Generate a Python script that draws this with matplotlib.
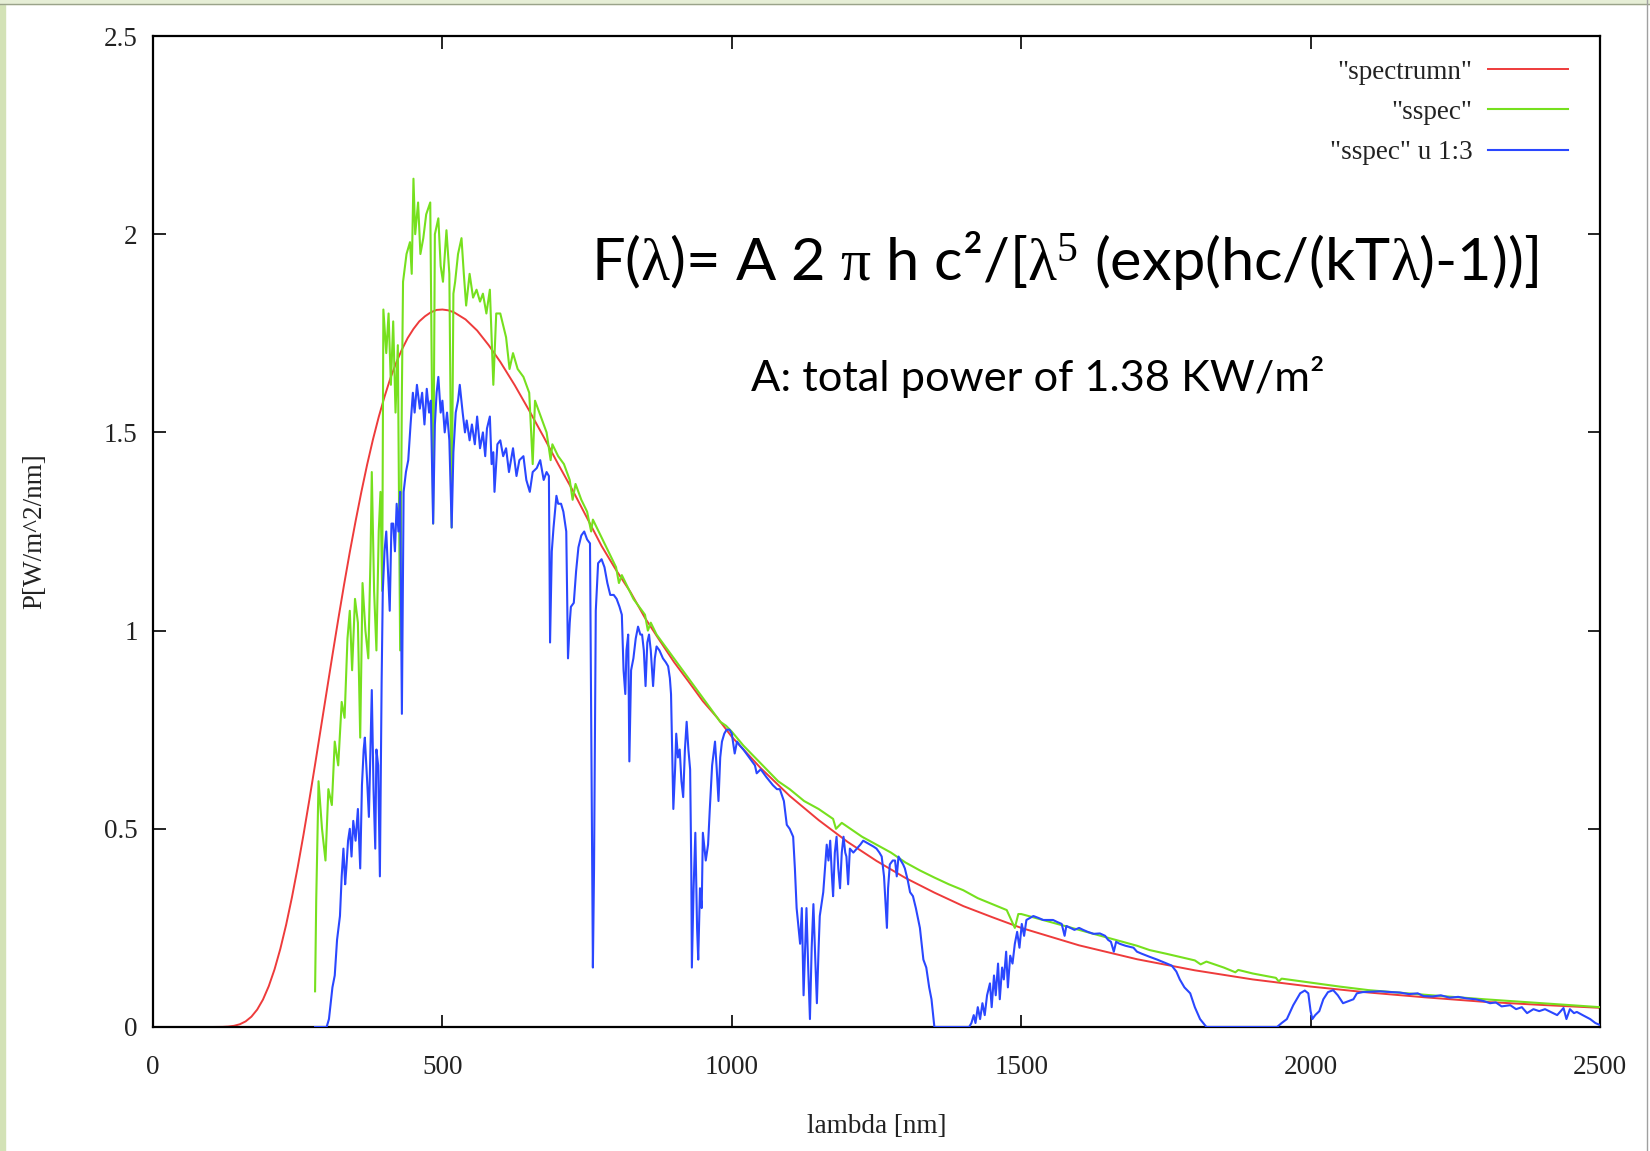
import matplotlib
matplotlib.use("Agg")
import matplotlib.pyplot as plt
from matplotlib.patches import Rectangle

# blackbody curve "spectrumn"
red_wl = [0, 100, 120, 130, 140, 150, 160, 170, 180, 190, 200, 210, 220, 230, 240, 250, 260, 270, 280, 290,
          300, 310, 320, 330, 340, 350, 360, 370, 380, 390, 400, 410, 420, 430, 440, 450, 460, 470, 480, 490,
          500, 510, 520, 540, 560, 580, 600, 625, 650, 675, 700, 725, 750, 775, 800, 825, 850, 875, 900, 925,
          950, 975, 1000, 1050, 1100, 1150, 1200, 1250, 1300, 1350, 1400, 1450, 1500, 1600, 1700, 1800, 1900, 2000,
          2100, 2200, 2300, 2400, 2500]
red_p = [0, 0, 0.0003, 0.0011, 0.003, 0.0069, 0.0141, 0.026, 0.0439, 0.0692, 0.103, 0.1455, 0.1972, 0.2578, 0.3268, 0.403, 0.485, 0.572, 0.662, 0.754,
         0.846, 0.938, 1.028, 1.115, 1.198, 1.276, 1.350, 1.419, 1.482, 1.539, 1.590, 1.636, 1.675, 1.709, 1.738, 1.761, 1.780, 1.793, 1.803, 1.809,
         1.810, 1.808, 1.803, 1.785, 1.757, 1.720, 1.678, 1.619, 1.555, 1.4885, 1.420, 1.354, 1.284, 1.2135, 1.153, 1.097, 1.032, 0.976, 0.921, 0.872,
         0.822, 0.780, 0.732, 0.653, 0.583, 0.522, 0.467, 0.419, 0.376, 0.339, 0.305, 0.277, 0.250, 0.206, 0.171, 0.143, 0.120, 0.102,
         0.087, 0.0746, 0.0635, 0.0556, 0.0484]

# "sspec" (top of atmosphere)
green_wl = [280, 282, 286, 292, 298, 303, 309, 314, 320, 326, 331, 336, 340, 344, 349, 354, 358, 362, 367, 372,
            376, 378, 382, 386, 390, 393, 396, 398, 403, 407, 411, 415, 419, 423, 427, 430, 432, 438, 444, 447,
            450, 453, 458, 462, 467, 472, 479, 484, 487, 493, 497, 501, 507, 512, 516, 519, 522, 527, 533, 537,
            541, 547, 553, 559, 565, 570, 576, 582, 588, 593, 600, 610, 616, 622, 630, 640, 650, 656, 660, 670,
            680, 687, 690, 700, 710, 720, 725, 730, 740, 750, 757, 760, 770, 780, 790, 800, 805, 810, 820, 830,
            840, 850, 855, 860, 870, 880, 890, 900, 910, 920, 930, 940, 950, 960, 970, 980, 990, 1000, 1020, 1040,
            1060, 1080, 1100, 1125, 1150, 1175, 1180, 1190, 1200, 1225, 1250, 1275, 1300, 1325, 1350, 1375, 1400, 1425,
            1450, 1475, 1489, 1495, 1500, 1525, 1550, 1600, 1650, 1700, 1722, 1750, 1800, 1810, 1820, 1850, 1870, 1875,
            1900, 1940, 1945, 1950, 2000, 2050, 2100, 2200, 2300, 2400, 2500]
green_p = [0.09, 0.32, 0.62, 0.50, 0.42, 0.60, 0.56, 0.72, 0.66, 0.82, 0.78, 0.98, 1.05, 0.90, 1.08, 1.02, 0.73, 1.12, 1.00, 0.93,
           1.20, 1.40, 1.10, 0.95, 1.25, 1.35, 1.10, 1.81, 1.70, 1.80, 1.62, 1.78, 1.55, 1.72, 0.95, 1.60, 1.88, 1.95, 1.98, 1.90,
           2.14, 2.00, 2.08, 1.95, 1.99, 2.05, 2.08, 1.27, 2.00, 2.04, 1.92, 1.88, 2.01, 1.90, 1.26, 1.85, 1.88, 1.95, 1.99, 1.90,
           1.82, 1.90, 1.84, 1.86, 1.83, 1.85, 1.80, 1.86, 1.62, 1.80, 1.80, 1.74, 1.66, 1.70, 1.66, 1.64, 1.60, 1.42, 1.58, 1.54,
           1.50, 1.43, 1.47, 1.44, 1.42, 1.38, 1.33, 1.37, 1.33, 1.30, 1.25, 1.28, 1.25, 1.22, 1.19, 1.16, 1.12, 1.14, 1.11, 1.08,
           1.06, 1.04, 1.00, 1.02, 0.99, 0.97, 0.95, 0.93, 0.91, 0.89, 0.87, 0.85, 0.83, 0.81, 0.79, 0.77, 0.76, 0.745, 0.71, 0.68,
           0.65, 0.62, 0.60, 0.57, 0.55, 0.525, 0.50, 0.515, 0.505, 0.48, 0.46, 0.44, 0.415, 0.395, 0.377, 0.36, 0.345, 0.325,
           0.31, 0.295, 0.25, 0.285, 0.285, 0.275, 0.265, 0.245, 0.225, 0.205, 0.194, 0.185, 0.168, 0.158, 0.165, 0.15, 0.138, 0.144,
           0.135, 0.124, 0.115, 0.122, 0.112, 0.102, 0.093, 0.081, 0.070, 0.060, 0.050]

# "sspec" u 1:3 (ground level)
blue_wl = [280, 300, 304, 310, 314, 318, 323, 326, 329, 332, 334, 337, 340, 343, 346, 350, 354, 358, 361, 364,
           366, 370, 373, 376, 378, 381, 384, 386, 389, 392, 395, 397, 400, 403, 406, 409, 412, 415, 418, 421,
           424, 427, 430, 433, 437, 441, 445, 449, 452, 456, 461, 465, 469, 473, 477, 480, 484, 487, 490, 493,
           497, 500, 504, 508, 512, 516, 519, 523, 527, 530, 535, 539, 542, 547, 551, 556, 560, 565, 570, 574,
           577, 582, 585, 588, 590, 595, 600, 605, 610, 615, 622, 628, 633, 640, 645, 651, 656, 663, 669, 675,
           680, 684, 686, 689, 692, 697, 700, 705, 709, 714, 717, 720, 722, 727, 731, 735, 740, 745, 750, 755,
           758, 760, 762, 765, 769, 775, 780, 785, 790, 796, 801, 806, 810, 813, 816, 818, 821, 823, 826, 830,
           834, 838, 842, 845, 848, 851, 854, 857, 860, 864, 867, 870, 875, 881, 886, 890, 893, 895, 897, 899,
           902, 904, 907, 910, 913, 916, 919, 922, 925, 928, 930, 931, 934, 937, 940, 942, 945, 948, 950, 955,
           959, 962, 966, 971, 974, 977, 980, 983, 987, 991, 996, 1000, 1005, 1009, 1014, 1020, 1030, 1040, 1043, 1050,
           1060, 1071, 1078, 1083, 1090, 1095, 1100, 1106, 1109, 1112, 1118, 1121, 1124, 1129, 1132, 1135, 1138, 1141, 1144, 1147,
           1150, 1152, 1158, 1161, 1164, 1167, 1170, 1173, 1175, 1178, 1181, 1184, 1187, 1190, 1193, 1196, 1198, 1201, 1204, 1210,
           1216, 1222, 1227, 1233, 1239, 1245, 1250, 1255, 1259, 1263, 1266, 1268, 1270, 1273, 1278, 1282, 1285, 1288, 1292, 1296,
           1299, 1304, 1308, 1313, 1318, 1325, 1331, 1336, 1341, 1345, 1350, 1410, 1414, 1418, 1421, 1425, 1429, 1433, 1437, 1441,
           1446, 1449, 1453, 1456, 1460, 1463, 1467, 1470, 1474, 1477, 1481, 1485, 1489, 1493, 1497, 1501, 1505, 1509, 1515, 1521,
           1530, 1538, 1547, 1555, 1562, 1570, 1575, 1578, 1585, 1592, 1600, 1607, 1615, 1625, 1636, 1645, 1650, 1655, 1660, 1664,
           1670, 1680, 1694, 1700, 1708, 1722, 1735, 1752, 1760, 1768, 1774, 1782, 1792, 1800, 1809, 1820, 1942, 1950, 1959, 1970,
           1982, 1990, 1996, 2000, 2003, 2008, 2015, 2022, 2030, 2039, 2047, 2056, 2065, 2074, 2080, 2090, 2103, 2120, 2140, 2154,
           2170, 2185, 2195, 2211, 2225, 2240, 2255, 2270, 2285, 2300, 2310, 2320, 2330, 2345, 2355, 2365, 2374, 2385, 2395, 2405,
           2415, 2426, 2437, 2442, 2448, 2455, 2460, 2470, 2483, 2492, 2500]
blue_p = [0.0, 0.0, 0.02, 0.10, 0.13, 0.22, 0.28, 0.38, 0.45, 0.36, 0.40, 0.47, 0.50, 0.43, 0.52, 0.47, 0.55, 0.40, 0.61, 0.70,
          0.73, 0.62, 0.53, 0.72, 0.85, 0.60, 0.45, 0.70, 0.66, 0.38, 0.87, 1.10, 1.20, 1.25, 1.15, 1.05, 1.27, 1.27, 1.20, 1.32,
          1.25, 1.35, 0.79, 1.35, 1.40, 1.43, 1.52, 1.60, 1.55, 1.62, 1.56, 1.60, 1.52, 1.61, 1.55, 1.58, 1.27, 1.52, 1.60, 1.64,
          1.55, 1.58, 1.50, 1.55, 1.48, 1.26, 1.45, 1.55, 1.58, 1.62, 1.55, 1.50, 1.53, 1.48, 1.52, 1.47, 1.54, 1.46, 1.50, 1.44,
          1.51, 1.54, 1.42, 1.45, 1.35, 1.47, 1.48, 1.44, 1.46, 1.40, 1.46, 1.39, 1.43, 1.44, 1.38, 1.35, 1.40, 1.41, 1.43, 1.38,
          1.40, 1.39, 0.97, 1.20, 1.26, 1.34, 1.32, 1.32, 1.30, 1.25, 0.93, 1.02, 1.06, 1.07, 1.15, 1.21, 1.24, 1.25, 1.23, 1.22,
          0.60, 0.15, 0.40, 1.05, 1.17, 1.18, 1.16, 1.12, 1.09, 1.09, 1.08, 1.06, 1.04, 0.90, 0.84, 0.95, 0.99, 0.67, 0.90, 0.93,
          0.98, 1.01, 0.99, 0.99, 0.95, 0.86, 0.97, 0.99, 0.95, 0.86, 0.93, 0.96, 0.95, 0.93, 0.92, 0.91, 0.88, 0.84, 0.70, 0.55,
          0.65, 0.74, 0.68, 0.70, 0.62, 0.58, 0.70, 0.77, 0.70, 0.65, 0.40, 0.15, 0.35, 0.49, 0.25, 0.17, 0.35, 0.30, 0.49, 0.42,
          0.46, 0.55, 0.66, 0.72, 0.65, 0.57, 0.68, 0.72, 0.74, 0.75, 0.75, 0.74, 0.69, 0.72, 0.71, 0.70, 0.68, 0.66, 0.64, 0.65,
          0.63, 0.61, 0.60, 0.60, 0.57, 0.51, 0.50, 0.48, 0.40, 0.30, 0.21, 0.30, 0.08, 0.30, 0.15, 0.02, 0.20, 0.31, 0.18, 0.06,
          0.20, 0.28, 0.34, 0.40, 0.46, 0.42, 0.47, 0.38, 0.33, 0.44, 0.48, 0.40, 0.35, 0.44, 0.48, 0.44, 0.43, 0.36, 0.45, 0.44,
          0.45, 0.46, 0.47, 0.465, 0.46, 0.455, 0.45, 0.44, 0.43, 0.38, 0.30, 0.25, 0.35, 0.41, 0.42, 0.42, 0.38, 0.43, 0.42, 0.41,
          0.40, 0.37, 0.34, 0.33, 0.30, 0.25, 0.17, 0.15, 0.10, 0.07, 0.0, 0.0, 0.01, 0.03, 0.01, 0.05, 0.02, 0.06, 0.03, 0.08,
          0.11, 0.05, 0.13, 0.08, 0.16, 0.07, 0.15, 0.12, 0.19, 0.10, 0.18, 0.16, 0.21, 0.24, 0.20, 0.26, 0.23, 0.27, 0.275, 0.28,
          0.275, 0.27, 0.27, 0.27, 0.265, 0.26, 0.23, 0.255, 0.25, 0.245, 0.25, 0.245, 0.24, 0.235, 0.236, 0.23, 0.22, 0.215, 0.19, 0.215,
          0.21, 0.205, 0.20, 0.19, 0.185, 0.177, 0.17, 0.16, 0.155, 0.14, 0.12, 0.10, 0.085, 0.05, 0.02, 0.0, 0.0, 0.01, 0.02, 0.055,
          0.085, 0.092, 0.085, 0.04, 0.02, 0.03, 0.04, 0.07, 0.088, 0.093, 0.08, 0.06, 0.065, 0.07, 0.085, 0.088, 0.089, 0.09, 0.088, 0.087,
          0.083, 0.085, 0.078, 0.077, 0.080, 0.074, 0.076, 0.072, 0.070, 0.065, 0.060, 0.062, 0.052, 0.055, 0.045, 0.05, 0.035, 0.045, 0.04, 0.045,
          0.038, 0.03, 0.048, 0.02, 0.045, 0.035, 0.038, 0.03, 0.02, 0.01, 0.005]

xticks = [0, 500, 1000, 1500, 2000, 2500]
yticks = [0, 0.5, 1, 1.5, 2, 2.5]
ytick_labels = ['0', '0.5', '1', '1.5', '2', '2.5']
labels = ['"spectrumn"', '"sspec"', '"sspec" u 1:3']

serif = 'Liberation Serif'
plt.rcParams['mathtext.fontset'] = 'custom'
plt.rcParams['mathtext.rm'] = serif
plt.rcParams['mathtext.it'] = serif
plt.rcParams['mathtext.default'] = 'rm'

fig = plt.figure(figsize=(16.5, 11.51), dpi=100)
fig.patch.set_facecolor('white')

# slide frame bits
fig.patches.append(Rectangle((0, 0), 5 / 1650, 1, transform=fig.transFigure, color='#d3e2b6', zorder=0))
fig.patches.append(Rectangle((0, 1 - 4 / 1151), 1, 4 / 1151, transform=fig.transFigure, color='#e6eed6', zorder=0))
fig.lines.append(plt.Line2D([0, 1], [1 - 4 / 1151] * 2, transform=fig.transFigure, color='#9aa38a', lw=1))
fig.lines.append(plt.Line2D([1647 / 1650] * 2, [0, 1], transform=fig.transFigure, color='#a0a0a0', lw=1))

ax = fig.add_axes([153 / 1650, 1 - 1027 / 1151, 1447 / 1650, 991 / 1151])

ax.plot(red_wl, red_p, color='#ee3b3b', lw=1.4, label=labels[0], zorder=2)
ax.plot(green_wl, green_p, color='#76e01e', lw=1.5, label=labels[1], zorder=3)
ax.plot(blue_wl, blue_p, color='#2a47ff', lw=1.5, label=labels[2], zorder=4)

fs = 19.5
ax.set_xlim(0, 2500)
ax.set_ylim(0, 2.5)
ax.set_xticks(xticks)
ax.set_xticklabels([str(t) for t in xticks])
ax.set_yticks(yticks)
ax.set_yticklabels(ytick_labels)
ax.tick_params(direction='in', length=9, width=1.2, top=True, right=True,
               labelsize=fs, labelcolor='#222222')
ax.tick_params(axis='x', pad=20)
ax.tick_params(axis='y', pad=11)
for lab in ax.get_xticklabels() + ax.get_yticklabels():
    lab.set_family(serif)
for s in ax.spines.values():
    s.set_linewidth(1.6)

ax.set_xlabel('lambda [nm]', family=serif, fontsize=fs, color='#222222')
ax.set_ylabel('P[W/m^2/nm]', family=serif, fontsize=fs, color='#222222')
ax.xaxis.set_label_coords(0.5, -0.088)
ax.yaxis.set_label_coords(-0.073, 0.5)

leg = ax.legend(loc='upper right', bbox_to_anchor=(0.978, 0.976), frameon=False, markerfirst=False,
                handlelength=2.95, handletextpad=0.58, labelspacing=0.56, borderpad=0, borderaxespad=0,
                prop={'family': serif, 'size': fs})
for t in leg.get_texts():
    t.set_color('#222222')

big = ['Lato', 'Liberation Serif', 'DejaVu Sans']
ax.text(0.3027, 0.773, r'F($\lambda$)= A 2 $\pi$ h c²/[$\lambda^5$ (exp(hc/(kT$\lambda$)-1))]', transform=ax.transAxes,
        ha='left', va='center', fontsize=42.8, family=big, color='black')
ax.text(0.413, 0.656, 'A: total power of 1.38 KW/m²', transform=ax.transAxes,
        ha='left', va='center', fontsize=31.2, family=big, color='black')

fig.savefig('out.png', dpi=100)
